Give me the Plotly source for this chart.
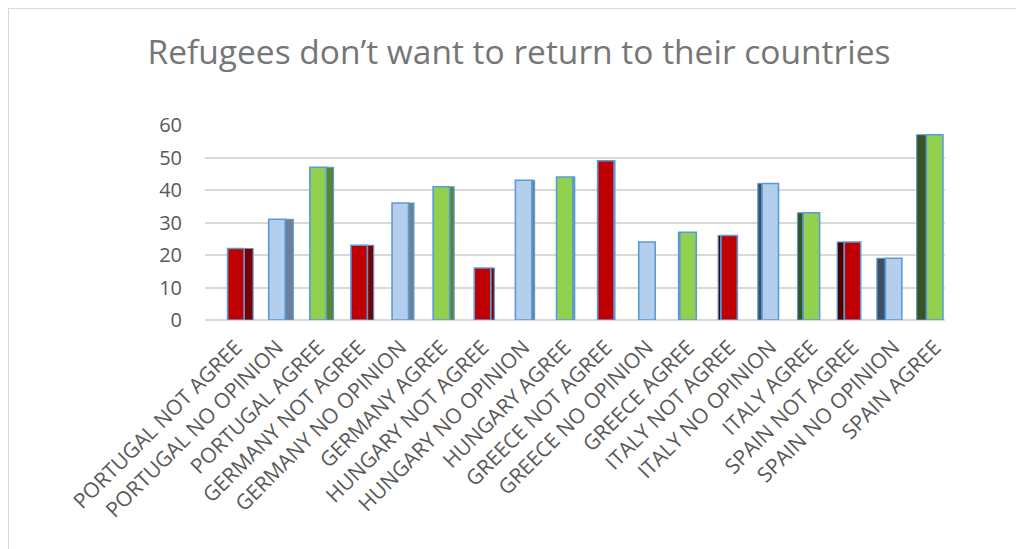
import plotly.graph_objects as go

categories = [
    "PORTUGAL NOT AGREE", "PORTUGAL NO OPINION", "PORTUGAL AGREE",
    "GERMANY NOT AGREE", "GERMANY NO OPINION", "GERMANY AGREE",
    "HUNGARY NOT AGREE", "HUNGARY NO OPINION", "HUNGARY AGREE",
    "GREECE NOT AGREE", "GREECE NO OPINION", "GREECE AGREE",
    "ITALY NOT AGREE", "ITALY NO OPINION", "ITALY AGREE",
    "SPAIN NOT AGREE", "SPAIN NO OPINION", "SPAIN AGREE",
]
values = [22, 31, 47, 23, 36, 41, 16, 43, 44, 49, 24, 27, 26, 42, 33, 24, 19, 57]
answers = ["NOT AGREE", "NO OPINION", "AGREE"] * 6
y_ticks = [0, 10, 20, 30, 40, 50, 60]

front_colors = {"NOT AGREE": "#C00000", "NO OPINION": "#B4CEEE", "AGREE": "#92D050"}
side_right = {"NOT AGREE": "#780000", "NO OPINION": "#6D8098", "AGREE": "#5A8530"}
side_left = {"NOT AGREE": "#4A0000", "NO OPINION": "#3E4E64", "AGREE": "#3A5220"}

n = len(categories)
front_w = 0.40
side_w, side_off, side_col = [], [], []
for i, a in enumerate(answers):
    if i < 10:
        w = 0.22 * (10 - i) / 10
        side_w.append(max(w, 0.001))
        side_off.append(front_w / 2)
        side_col.append(side_right[a])
    else:
        w = 0.24 * (i - 10) / 7
        side_w.append(max(w, 0.001))
        side_off.append(-front_w / 2 - w)
        side_col.append(side_left[a])

W, H = 1024, 549
ML, MR, MT, MB = 197, 87, 117, 237
pw, ph = W - ML - MR, H - MT - MB

fig = go.Figure()
fig.add_trace(go.Bar(
    x=categories, y=values, width=side_w, offset=side_off,
    marker=dict(color=side_col, line=dict(color="#5B9BD5", width=1.2)),
    hoverinfo="skip", showlegend=False,
))
fig.add_trace(go.Bar(
    x=categories, y=values, width=front_w, offset=-front_w / 2,
    marker=dict(color=[front_colors[a] for a in answers],
                line=dict(color="#5B9BD5", width=1.6)),
    showlegend=False,
))

top_y = (H - MB) / ph
left_x = -ML / pw
fig.update_layout(
    width=W, height=H,
    paper_bgcolor="white", plot_bgcolor="white",
    margin=dict(l=ML, r=MR, t=MT, b=MB),
    barmode="overlay",
    font=dict(family="Open Sans, Liberation Sans, sans-serif", color="#595959"),
    title=dict(
        text="Refugees don\u2019t want to return to their countries",
        x=511 / W, xanchor="center", y=1 - 44 / H, yanchor="middle",
        font=dict(size=33.5, color="#767676"),
    ),
    xaxis=dict(
        type="category", range=[-0.75, 17.25],
        tickangle=-45, tickfont=dict(size=21, color="#595959"),
        showgrid=False, showline=False, ticks="", ticklabelstandoff=10,
    ),
    yaxis=dict(
        range=[0, 60], tickvals=y_ticks,
        tickfont=dict(size=20, color="#595959"),
        showgrid=True, gridcolor="#D9D9D9", gridwidth=1.5,
        zeroline=True, zerolinecolor="#D9D9D9", zerolinewidth=1.5,
        showline=False, ticks="", ticklabelstandoff=22,
    ),
    shapes=[
        dict(type="line", xref="paper", yref="paper", x0=left_x, x1=(W - ML) / pw,
             y0=top_y, y1=top_y, line=dict(color="#D9D9D9", width=2)),
        dict(type="line", xref="paper", yref="paper", x0=left_x, x1=left_x,
             y0=top_y, y1=-MB / ph, line=dict(color="#D9D9D9", width=2)),
    ],
)

fig.write_html("out.html")
